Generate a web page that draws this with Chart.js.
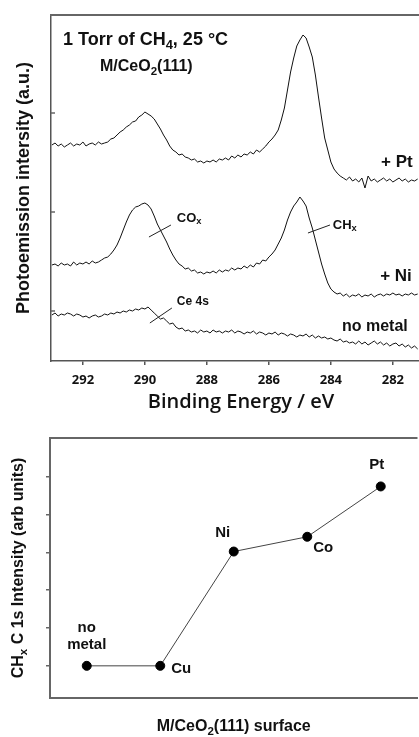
<!DOCTYPE html>
<html>
<head>
<meta charset="utf-8">
<script src="https://cdn.jsdelivr.net/npm/chart.js@4"></script>
<style>
  html, body { margin: 0; padding: 0; background: #fff; overflow: hidden; width: 419px; height: 737px; }
  /* the plot frames run past the right edge of the figure, as in the original */
  #topo { position: absolute; left: 0; top: 0; width: 431px; height: 420px; }
  #baixo { position: absolute; left: 0; top: 420px; width: 423px; height: 317px; }
</style>
</head>
<body>
<div id="topo"><canvas id="espectro"></canvas></div>
<div id="baixo"><canvas id="intensidade"></canvas></div>
<script>
// binding energy grid (eV)
var energias = [
  293.0, 292.9, 292.8, 292.7, 292.6, 292.5, 292.4, 292.3, 292.2, 292.1,
  292.0, 291.9, 291.8, 291.7, 291.6, 291.5, 291.4, 291.3, 291.2, 291.1,
  291.0, 290.9, 290.8, 290.7, 290.6, 290.5, 290.4, 290.3, 290.2, 290.1,
  290.0, 289.9, 289.8, 289.7, 289.6, 289.5, 289.4, 289.3, 289.2, 289.1,
  289.0, 288.9, 288.8, 288.7, 288.6, 288.5, 288.4, 288.3, 288.2, 288.1,
  288.0, 287.9, 287.8, 287.7, 287.6, 287.5, 287.4, 287.3, 287.2, 287.1,
  287.0, 286.9, 286.8, 286.7, 286.6, 286.5, 286.4, 286.3, 286.2, 286.1,
  286.0, 285.9, 285.8, 285.7, 285.6, 285.5, 285.4, 285.3, 285.2, 285.1,
  285.0, 284.9, 284.8, 284.7, 284.6, 284.5, 284.4, 284.3, 284.2, 284.1,
  284.0, 283.9, 283.8, 283.7, 283.6, 283.5, 283.4, 283.3, 283.2, 283.1,
  283.0, 282.9, 282.8, 282.7, 282.6, 282.5, 282.4, 282.3, 282.2, 282.1,
  282.0, 281.9, 281.8, 281.7, 281.6, 281.5, 281.4, 281.3, 281.2
];

// C 1s intensity (a.u., stacked as in the figure)
var espectroPt = [
  216, 218, 215, 217, 214, 216, 218, 215, 217, 216, 219, 215, 217, 218, 216, 219, 217,
  218, 219, 222, 223, 226, 229, 231, 234, 236, 239, 240, 244, 246, 249,
  247, 245, 242, 237, 232, 226, 221, 215, 211, 209,
  206, 207, 204, 203, 201, 202, 199, 200, 198, 200,
  199, 201, 199, 202, 201, 203, 201, 205, 203, 206,
  204, 207, 206, 209, 207, 211, 209, 212, 215, 219,
  222, 226, 231, 241, 253, 271, 289, 303, 315, 321,
  326, 323, 314, 304, 286, 264, 243, 223, 211, 199,
  192, 188, 185, 183, 181, 184, 180, 182, 179, 183,
  173, 185, 180, 182, 179, 181, 183, 180, 182, 179,
  181, 183, 180, 182, 179, 181, 180, 182
];

var espectroNi = [
  96, 97, 95, 98, 96, 97, 95, 99, 96, 98, 97, 99, 97, 100, 98, 99, 101, 103,
  104, 107, 111, 116, 123, 131, 139, 146, 151, 154, 155, 157, 158,
  156, 152, 145, 137, 131, 125, 119, 112, 106, 101,
  97, 95, 92, 93, 90, 91, 88, 89, 87, 89,
  88, 90, 88, 91, 89, 91, 90, 93, 91, 93,
  92, 95, 93, 96, 94, 98, 97, 101, 100, 104,
  107, 111, 117, 123, 131, 141, 149, 155, 159, 164,
  160, 155, 143, 133, 121, 109, 97, 87, 78, 72,
  69, 67, 68, 65, 67, 64, 66, 65, 67, 64,
  66, 65, 67, 64, 66, 67, 65, 67, 66, 68,
  66, 67, 65, 67, 66, 68, 66, 67
];

var espectroSemMetal = [
  46, 48, 45, 47, 46, 48, 47, 45, 47, 46, 44, 45, 43, 45, 46, 44,
  45, 47, 46, 48, 47, 49, 48, 50, 49, 51, 50, 52, 51, 53, 52,
  54, 51, 48, 45, 42, 43, 40, 37, 38, 34,
  32, 33, 30, 31, 29, 30, 28, 31, 29, 30,
  28, 31, 29, 30, 28, 30, 29, 31, 28, 30,
  29, 27, 29, 28, 30, 27, 29, 28, 26, 28,
  27, 29, 26, 28, 27, 25, 27, 26, 24, 26,
  25, 27, 24, 26, 23, 25, 23, 24, 22, 23,
  21, 20, 22, 19, 20, 18, 19, 17, 20, 17,
  19, 16, 18, 20, 17, 19, 16, 18, 15, 17,
  18, 15, 17, 14, 16, 13, 15, 12
];

var nomesEspectros = ['+ Pt', '+ Ni', 'no metal'];
var marcasIntensidade = [50, 149, 248];

// lower panel
var superficies = ['no metal', 'Cu', 'Ni', 'Co', 'Pt'];
var intensidadeCHx = [1.0, 1.0, 4.02, 4.41, 5.74];
var marcasCHx = [1, 2, 3, 4, 5, 6];

var fonteArial = "'Liberation Sans', Arial, sans-serif";

function pontos(valores) {
  return valores.map(function (v, i) {
    return { x: energias[i], y: v };
  });
}

// draws text with subscript pieces: partes = [[texto, subscrito], ...]
function textoRico(ctx, partes, x, y, tamanho, alinhar) {
  var larguras = partes.map(function (p) {
    ctx.font = 'bold ' + (p[1] ? tamanho * 0.72 : tamanho) + 'px ' + fonteArial;
    return ctx.measureText(p[0]).width;
  });
  var total = larguras.reduce(function (a, b) { return a + b; }, 0);
  var cx = x;
  if (alinhar === 'center') cx = x - total / 2;
  if (alinhar === 'right') cx = x - total;
  ctx.textAlign = 'left';
  ctx.textBaseline = 'middle';
  partes.forEach(function (p, i) {
    ctx.font = 'bold ' + (p[1] ? tamanho * 0.72 : tamanho) + 'px ' + fonteArial;
    ctx.fillText(p[0], cx, p[1] ? y + tamanho * 0.3 : y);
    cx += larguras[i];
  });
}

var molduraEspectro = {
  id: 'molduraEspectro',
  afterDraw: function (chart) {
    var ctx = chart.ctx;
    var area = chart.chartArea;
    var sx = chart.scales.x;
    var sy = chart.scales.y;
    ctx.save();
    ctx.strokeStyle = '#666';
    ctx.lineWidth = 2;
    ctx.beginPath();
    ctx.moveTo(area.left - 1, area.top);
    ctx.lineTo(area.right, area.top);
    ctx.stroke();

    ctx.lineWidth = 1.5;
    sy.ticks.forEach(function (t) {
      var py = sy.getPixelForValue(t.value);
      ctx.beginPath();
      ctx.moveTo(area.left, py);
      ctx.lineTo(area.left + 4, py);
      ctx.stroke();
    });

    // leader lines for the peak labels
    var guias = [[289.87, 124, 289.16, 136], [284.74, 128, 284.03, 136], [289.84, 38, 289.13, 53]];
    ctx.strokeStyle = '#222';
    ctx.lineWidth = 1;
    guias.forEach(function (g) {
      ctx.beginPath();
      ctx.moveTo(sx.getPixelForValue(g[0]), sy.getPixelForValue(g[1]));
      ctx.lineTo(sx.getPixelForValue(g[2]), sy.getPixelForValue(g[3]));
      ctx.stroke();
    });

    ctx.fillStyle = '#111';
    textoRico(ctx, [['CO', 0], ['x', 1]], sx.getPixelForValue(288.97), sy.getPixelForValue(143), 13, 'left');
    textoRico(ctx, [['CH', 0], ['x', 1]], sx.getPixelForValue(283.94), sy.getPixelForValue(136), 13, 'left');
    textoRico(ctx, [['Ce 4s', 0]], sx.getPixelForValue(288.97), sy.getPixelForValue(59), 12, 'left');

    textoRico(ctx, [[nomesEspectros[0], 0]], sx.getPixelForValue(281.87), sy.getPixelForValue(199), 17, 'center');
    textoRico(ctx, [[nomesEspectros[1], 0]], sx.getPixelForValue(281.9), sy.getPixelForValue(85), 17, 'center');
    textoRico(ctx, [[nomesEspectros[2], 0]], sx.getPixelForValue(282.58), sy.getPixelForValue(34), 16, 'center');

    textoRico(ctx, [['1 Torr of CH', 0], ['4', 1], [', 25 \u00B0C', 0]], area.left + 12, area.top + 25, 18, 'left');
    textoRico(ctx, [['M/CeO', 0], ['2', 1], ['(111)', 0]], area.left + 49, area.top + 52, 16, 'left');
    ctx.restore();
  }
};

var molduraSuperficie = {
  id: 'molduraSuperficie',
  afterDraw: function (chart) {
    var ctx = chart.ctx;
    var area = chart.chartArea;
    var sx = chart.scales.x;
    var sy = chart.scales.y;
    ctx.save();
    ctx.strokeStyle = '#666';
    ctx.lineWidth = 2;
    ctx.beginPath();
    ctx.moveTo(area.left - 1, area.top);
    ctx.lineTo(area.right, area.top);
    ctx.stroke();

    // point labels (offsets from each marker)
    var desvios = [[0, -38, 'center'], [11, 3, 'left'], [-11, -19, 'center'], [16, 11, 'center'], [-4, -22, 'center']];
    ctx.fillStyle = '#111';
    superficies.forEach(function (nome, i) {
      var px = sx.getPixelForValue(i + 1);
      var py = sy.getPixelForValue(intensidadeCHx[i]);
      var d = desvios[i];
      if (nome === 'no metal') {
        textoRico(ctx, [['no', 0]], px + d[0], py + d[1], 15, 'center');
        textoRico(ctx, [['metal', 0]], px + d[0], py + d[1] + 17, 15, 'center');
      } else {
        textoRico(ctx, [[nome, 0]], px + d[0], py + d[1], 15, d[2]);
      }
    });

    // axis titles
    textoRico(ctx, [['M/CeO', 0], ['2', 1], ['(111) surface', 0]], (area.left + area.right) / 2, chart.height - 10, 16, 'center');
    ctx.translate(19, (area.top + area.bottom) / 2);
    ctx.rotate(-Math.PI / 2);
    textoRico(ctx, [['CH', 0], ['x', 1], [' C 1s Intensity (arb units)', 0]], 0, 0, 16, 'center');
    ctx.restore();
  }
};

new Chart(document.getElementById('espectro'), {
  type: 'line',
  data: {
    datasets: [
      { label: nomesEspectros[0], data: pontos(espectroPt), borderColor: '#111', borderWidth: 1, pointRadius: 0, tension: 0 },
      { label: nomesEspectros[1], data: pontos(espectroNi), borderColor: '#111', borderWidth: 1, pointRadius: 0, tension: 0 },
      { label: nomesEspectros[2], data: pontos(espectroSemMetal), borderColor: '#111', borderWidth: 1, pointRadius: 0, tension: 0 }
    ]
  },
  options: {
    responsive: true,
    maintainAspectRatio: false,
    animation: false,
    layout: { padding: { top: 15, right: 0, left: 0, bottom: 0 } },
    plugins: { legend: { display: false }, tooltip: { enabled: false } },
    scales: {
      x: {
        type: 'linear',
        reverse: true,
        min: 280.77,
        max: 293.03,
        ticks: {
          stepSize: 2,
          includeBounds: false,
          padding: 7,
          color: '#111',
          font: { family: "'Open Sans', sans-serif", weight: 'bold', size: 13 }
        },
        grid: { drawOnChartArea: false, tickLength: 4, color: '#555', lineWidth: 1.5 },
        border: { color: '#555', width: 1.5 },
        title: {
          display: true,
          text: 'Binding Energy / eV',
          color: '#111',
          padding: { top: 0, bottom: 6 },
          font: { family: "'Open Sans', sans-serif", weight: '600', size: 20 }
        },
        afterFit: function (escala) { escala.height = 59; }
      },
      y: {
        min: 0,
        max: 346,
        ticks: { display: false },
        grid: { display: false },
        border: { color: '#555', width: 1.5 },
        title: {
          display: true,
          text: 'Photoemission intersity (a.u.)',
          color: '#111',
          padding: { top: 13, bottom: 0 },
          font: { family: fonteArial, weight: 'bold', size: 18 }
        },
        afterFit: function (escala) { escala.width = 51; },
        afterBuildTicks: function (escala) {
          escala.ticks = marcasIntensidade.map(function (v) { return { value: v }; });
        }
      }
    }
  },
  plugins: [molduraEspectro]
});

new Chart(document.getElementById('intensidade'), {
  type: 'line',
  data: {
    datasets: [{
      label: 'CHx C 1s',
      data: superficies.map(function (s, i) { return { x: i + 1, y: intensidadeCHx[i] }; }),
      borderColor: '#444',
      borderWidth: 1,
      pointRadius: 4.5,
      pointBackgroundColor: '#000',
      pointBorderColor: '#000',
      tension: 0
    }]
  },
  options: {
    responsive: true,
    maintainAspectRatio: false,
    animation: false,
    layout: { padding: { top: 18, right: 0, left: 0, bottom: 0 } },
    plugins: { legend: { display: false }, tooltip: { enabled: false } },
    scales: {
      x: {
        type: 'linear',
        min: 0.5,
        max: 5.5,
        ticks: { display: false },
        grid: { display: false },
        border: { color: '#666', width: 2 },
        afterFit: function (escala) { escala.height = 39; }
      },
      y: {
        min: 0.15,
        max: 7.02,
        ticks: { display: false },
        grid: { drawOnChartArea: false, tickLength: 4, color: '#666', lineWidth: 1.5 },
        border: { color: '#666', width: 2 },
        afterFit: function (escala) { escala.width = 50; },
        afterBuildTicks: function (escala) {
          escala.ticks = marcasCHx.map(function (v) { return { value: v }; });
        }
      }
    }
  },
  plugins: [molduraSuperficie]
});
</script>
</body>
</html>
